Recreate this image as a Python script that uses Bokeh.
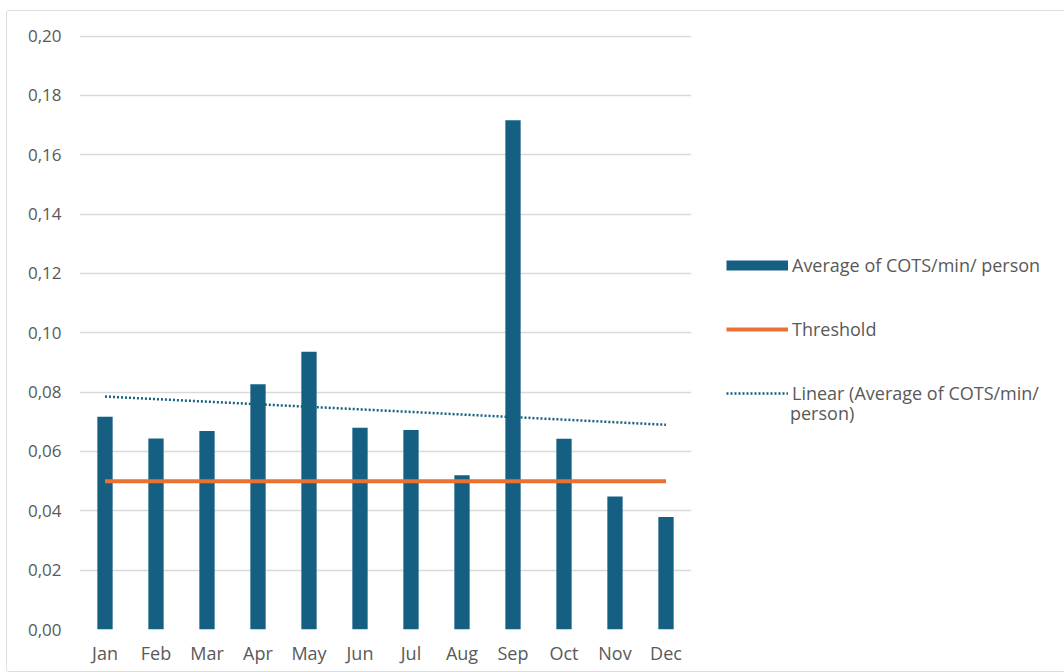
import numpy as np
from bokeh.plotting import figure
from bokeh.layouts import column
from bokeh.models import (Range1d, Legend, LegendItem, CustomJSTickFormatter,
                          ColumnDataSource, Div)
from bokeh.embed import file_html
from bokeh.resources import INLINE

# Monthly average COTS per minute per person
months = ["Jan", "Feb", "Mar", "Apr", "May", "Jun",
          "Jul", "Aug", "Sep", "Oct", "Nov", "Dec"]
cots_avg = [0.0717, 0.0644, 0.0669, 0.0827, 0.0936, 0.0680,
            0.0672, 0.0520, 0.1716, 0.0643, 0.0448, 0.0379]
threshold = [0.05] * 12
y_ticks = [0.00, 0.02, 0.04, 0.06, 0.08, 0.10, 0.12, 0.14, 0.16, 0.18, 0.20]

BLUE = "#156082"
ORANGE = "#E97132"
TEXT = "#595959"
FONT = "Open Sans"

# Least-squares linear trend over the month index
idx = np.arange(1, len(months) + 1)
slope, intercept = np.polyfit(idx, cots_avg, 1)
trend = list(intercept + slope * idx)

src = ColumnDataSource(dict(month=months, avg=cots_avg, thr=threshold, trend=trend))

p = figure(x_range=months, y_range=Range1d(0, 0.2002),
           frame_width=610, frame_height=592,
           min_border_left=72, min_border_right=366,
           min_border_top=24, min_border_bottom=44,
           output_backend="svg", toolbar_location=None,
           background_fill_color="white", border_fill_color="white")
p.outline_line_color = None
p.margin = (10, 0, 0, 6)
p.styles = {"border": "1px solid #dedede", "border-radius": "3px"}
p.x_range.range_padding = 0

bars = p.vbar(x="month", top="avg", width=0.3, source=src,
              fill_color=BLUE, line_color=None)
thr = p.line(x="month", y="thr", source=src, line_color=ORANGE,
             line_width=4)
tr = p.line(x="month", y="trend", source=src, line_color=BLUE,
            line_width=2.5, line_dash="2 2")

# Key swatch for the bar series: a thick line reads as a wide bar key
swatch = p.line(x=["Jan", "Jan"], y=[float("nan"), float("nan")],
                line_color=BLUE, line_width=10)

# Axes
p.yaxis.ticker = y_ticks
p.yaxis.formatter = CustomJSTickFormatter(
    code="return tick.toFixed(2).replace('.', ',');")
for ax in (p.xaxis, p.yaxis):
    ax.axis_line_color = None
    ax.major_tick_line_color = None
    ax.minor_tick_line_color = None
    ax.major_tick_out = 0
    ax.major_label_text_font = FONT
    ax.major_label_text_color = TEXT
p.yaxis.major_label_text_font_size = "17px"
p.xaxis.major_label_text_font_size = "18px"
p.yaxis.major_label_standoff = 18
p.xaxis.major_label_standoff = 11

p.xgrid.grid_line_color = None
p.ygrid.grid_line_color = "#d9d9d9"
p.ygrid.grid_line_width = 1.5

legend = Legend(items=[
    LegendItem(label="Average of COTS/min/ person", renderers=[swatch]),
    LegendItem(label="Threshold", renderers=[thr]),
    LegendItem(label="Linear (Average of COTS/min/", renderers=[tr]),
], location=(35, 224))
legend.border_line_color = None
legend.background_fill_alpha = 0
legend.padding = 0
legend.margin = 0
legend.spacing = 40
legend.glyph_width = 62
legend.glyph_height = 22
legend.label_height = 22
legend.label_standoff = 4
legend.label_text_font = FONT
legend.label_text_font_size = "18px"
legend.label_text_color = TEXT
p.add_layout(legend, "right")

# Wrapped continuation of the trend-line key label
note = Div(text="person)", width=80, height=16,
           styles={"position": "absolute", "left": "785px", "top": "400px",
                   "font-family": FONT, "font-size": "18px",
                   "color": TEXT, "line-height": "16px"})

open("out.html", "w").write(file_html(column(p, note), INLINE))
